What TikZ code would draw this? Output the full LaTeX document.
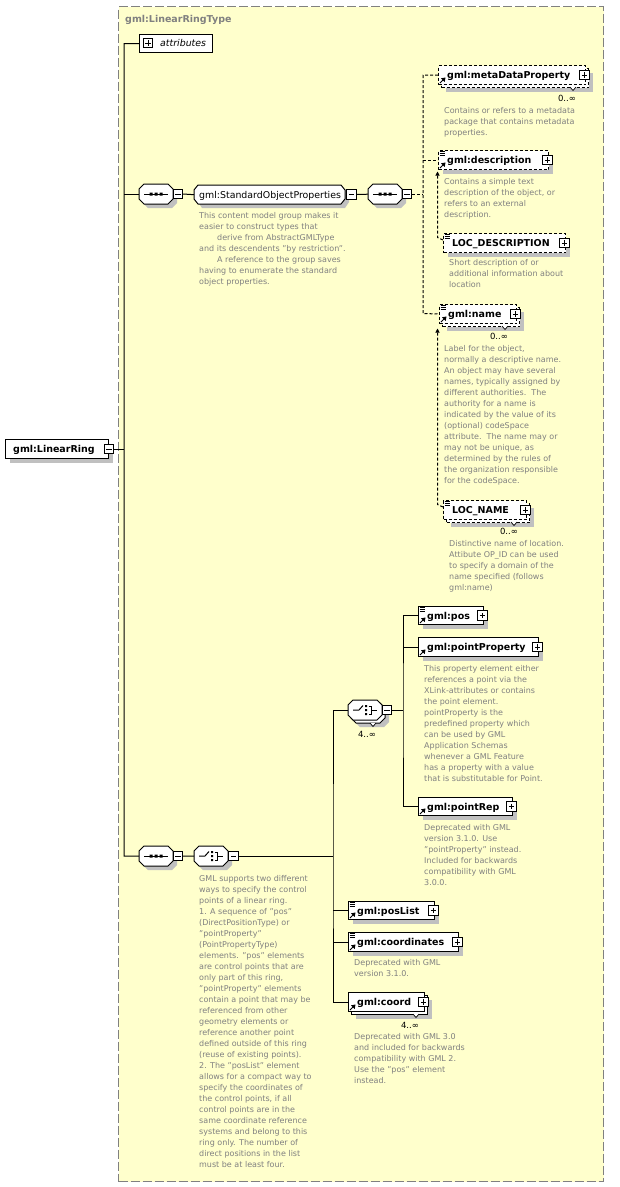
\documentclass[tikz,border=0pt]{standalone}
\usepackage{fontspec}
\setmainfont{DejaVu Sans}
\usetikzlibrary{shadows,calc,arrows.meta}
\definecolor{bgy}{HTML}{FFFFCC}
\definecolor{dgray}{HTML}{808080}
\definecolor{shd}{HTML}{C0C0C0}
\newcommand\nmfont{\fontsize{9.5pt}{11pt}\selectfont\bfseries}
\newcommand\dsfont{\fontsize{8pt}{11pt}\selectfont}
\newcommand\cdfont{\fontsize{8.5pt}{10pt}\selectfont}
\tikzset{
 el/.style={draw, fill=white, line width=1pt, anchor=north west, inner sep=0pt},
 shad/.style={general shadow={fill=shd, shadow xshift=4pt, shadow yshift=-4pt}},
 dsh/.style={dash pattern=on 3pt off 2pt},
 nm/.style={anchor=base west, inner sep=0pt, font=\nmfont},
 ds/.style={anchor=north west, inner sep=0pt, align=left, font=\dsfont, text=dgray},
 card/.style={inner sep=0pt, font=\cdfont},
 pm/.style={draw, fill=white, line width=0.8pt, minimum size=9.5pt, inner sep=0pt},
 plusbox/.style={pm, path picture={\draw[line width=0.8pt] ([xshift=2pt]path picture bounding box.west) -- ([xshift=-2pt]path picture bounding box.east) ([yshift=-2pt]path picture bounding box.north) -- ([yshift=2pt]path picture bounding box.south);}},
 minusbox/.style={pm, path picture={\draw[line width=0.8pt] ([xshift=2pt]path picture bounding box.west) -- ([xshift=-2pt]path picture bounding box.east);}},
 hook/.style={anchor=north west, inner sep=0pt, minimum width=34pt, minimum height=20pt},
 wire/.style={line width=1pt},
}
% element: name, x, y, w, h, label, style
\newcommand\elem[7]{%
  \node[el, minimum width=#4pt, minimum height=#5pt, #7] (#1) at (#2,#3) {};
  \node[nm] (#1-t) at ($(#1.west)+(9,3.5)$) {#6};
  \node[plusbox] (#1-p) at ($(#1.east)+(-1.5,0)$) {};
}
% back box of a repeated element: name, x, y, w, h, style
\newcommand\backbox[6]{%
  \node[el, shad, minimum width=#4pt, minimum height=#5pt, #6] (#1) at (#2+3,#3+3) {};
}
\newcommand\notch[2]{\draw[line width=0.7pt, fill=white] (#1-3,#2) -- (#1,#2+3.5) -- (#1+3,#2);}
\newcommand\txticon[1]{\draw[line width=0.7pt] ($(#1.north west)+(1.5,1)$) -- ++(5,0) ($(#1.north west)+(1.5,3)$) -- ++(5,0) ($(#1.north west)+(1.5,5)$) -- ++(5,0);}
\newcommand\reficon[1]{\draw[line width=1pt] ($(#1.south west)+(2,-2)$) -- ++(3,-3); \fill ($(#1.south west)+(7.5,-7.5)$) -- ++(-4.5,0.8) -- ++(3.7,3.7) -- cycle;}
\newcommand\octo[3]{\path[#3] (#1+5,#2)--(#1+29,#2)--(#1+34,#2+5)--(#1+34,#2+15)--(#1+29,#2+20)--(#1+5,#2+20)--(#1,#2+15)--(#1,#2+5)--cycle;}
\newcommand\seqicon[2]{\draw[line width=1pt] (#1+5,#2+10)--(#1+29,#2+10); \fill (#1+10.5,#2+8.5) rectangle ++(3,3) (#1+15.5,#2+8.5) rectangle ++(3,3) (#1+20.5,#2+8.5) rectangle ++(3,3);}
\newcommand\choicon[2]{\draw[line width=1pt] (#1+5,#2+10)--(#1+11,#2+10)--(#1+15,#2+5.5); \fill (#1+17,#2+5) rectangle ++(2.2,2.2) (#1+17,#2+9) rectangle ++(2.2,2.2) (#1+17,#2+13) rectangle ++(2.2,2.2); \draw[line width=1pt] (#1+20.5,#2+6)--(#1+23,#2+6)--(#1+23,#2+14)--(#1+20.5,#2+14) (#1+23,#2+10)--(#1+29,#2+10);}
\begin{document}
\begin{tikzpicture}[x=1pt,y=-1pt]
\useasboundingbox (0,0) rectangle (619,1187);
\fill[white] (0,0) rectangle (619,1187);
\node[draw=dgray, fill=bgy, line width=1pt, dash pattern=on 9pt off 3pt, anchor=north west, inner sep=0pt, minimum width=485pt, minimum height=1175pt] (type) at (118,6) {};
\node[anchor=base west, inner sep=0pt, font=\nmfont, text=dgray] (typet) at (125,22.5) {gml:LinearRingType};

\coordinate (spb) at (124,856);
\coordinate (j2) at (423,313.5);
\coordinate (j3) at (333,856);
\coordinate (j4) at (403,710);

% root element
\node[el, shad, minimum width=103pt, minimum height=19pt] (ring) at (5,439) {};
\node[nm] (ring-t) at ($(ring.west)+(8,3.5)$) {gml:LinearRing};
\node[minusbox] (ring-m) at (ring.east) {};

% attributes
\node[el, minimum width=73pt, minimum height=18pt] (attr) at (139,34) {};
\node[plusbox] (attr-p) at (148,43) {};
\node[anchor=base west, inner sep=0pt, font=\fontsize{9.4pt}{11pt}\selectfont\itshape] (attr-t) at (160,46.5) {attributes};

% sequence 1
\octo{143}{188}{fill=shd}
\octo{139}{184}{draw,fill=white,line width=1pt}
\seqicon{139}{184}
\node[hook] (seqa) at (139,184) {};
\node[minusbox] (seqa-m) at (178,194) {};

% group
\path[fill=shd] (202,189)--(345,189)--(349,194)--(349,202)--(345,208)--(202,208)--(198,202)--(198,194)--cycle;
\draw[line width=1pt, fill=white] (198,185)--(341,185)--(345,190)--(345,199)--(341,204)--(198,204)--(194,199)--(194,190)--cycle;
\node[anchor=north west, inner sep=0pt, minimum width=151pt, minimum height=19pt] (grp) at (194,185) {};
\node[anchor=base west, inner sep=0pt, font=\fontsize{9.4pt}{11pt}\selectfont] (grp-t) at (199,198) {gml:StandardObjectProperties};
\node[minusbox] (grp-m) at (351.5,194.5) {};
\node[ds] (grp-d) at (199,212.4) {This content model group makes it\\easier to construct types that\\\hspace*{18pt}derive from AbstractGMLType\\and its descendents "by restriction".\\\hspace*{18pt}A reference to the group saves\\having to enumerate the standard\\object properties.};

% sequence 2
\octo{372}{188}{fill=shd}
\octo{368}{184}{draw,fill=white,line width=1pt}
\seqicon{368}{184}
\node[hook] (seqb) at (368,184) {};
\node[minusbox] (seqb-m) at (407,194) {};

% metaDataProperty
\backbox{md-b}{438}{65}{147}{19}{dsh}
\notch{573}{87}
\elem{md}{438}{65}{147}{19}{gml:metaDataProperty}{dsh}
\reficon{md}
\node[card] (md-c) at (567,98.5) {0..∞};
\node[ds] (md-d) at (444,107.4) {Contains or refers to a metadata\\package that contains metadata\\properties.};

% description
\elem{desc}{438}{150}{110}{19}{gml:description}{dsh, shad}
\txticon{desc}
\reficon{desc}
\node[ds] (desc-d) at (444,178.4) {Contains a simple text\\description of the object, or\\refers to an external\\description.};

% LOC_DESCRIPTION
\elem{locdesc}{443}{233}{122}{19}{LOC\_DESCRIPTION}{dsh, shad}
\txticon{locdesc}
\node[ds] (locdesc-d) at (449,259.4) {Short description of or\\additional information about\\location};

% name
\backbox{name-b}{439}{304}{77}{19}{dsh}
\notch{505}{326}
\elem{name}{439}{304}{77}{19}{gml:name}{dsh}
\txticon{name}
\reficon{name}
\node[card] (name-c) at (499,336.5) {0..∞};
\node[ds] (name-d) at (444,345.4) {Label for the object,\\normally a descriptive name.\\An object may have several\\names, typically assigned by\\different authorities.\ \ The\\authority for a name is\\indicated by the value of its\\(optional) codeSpace\\attribute.\ \ The name may or\\may not be unique, as\\determined by the rules of\\the organization responsible\\for the codeSpace.};

% LOC_NAME
\backbox{locname-b}{443}{500}{83}{19}{dsh}
\notch{514}{522}
\elem{locname}{443}{500}{83}{19}{LOC\_NAME}{dsh}
\txticon{locname}
\node[card] (locname-c) at (509,531.5) {0..∞};
\node[ds] (locname-d) at (449,540.4) {Distinctive name of location.\\Attibute OP\_ID can be used\\to specify a domain of the\\name specified (follows\\gml:name)};

% sequence 3
\octo{143}{850}{fill=shd}
\octo{139}{846}{draw,fill=white,line width=1pt}
\seqicon{139}{846}
\node[hook] (seqc) at (139,846) {};
\node[minusbox] (seqc-m) at (178,856) {};

% choice 1
\octo{198}{850}{fill=shd}
\octo{194}{846}{draw,fill=white,line width=1pt}
\choicon{194}{846}
\node[hook] (cha) at (194,846) {};
\node[minusbox] (cha-m) at (233.5,856) {};
\node[ds] (cha-d) at (199,875.4) {GML supports two different\\ways to specify the control\\points of a linear ring.\\1. A sequence of "pos"\\(DirectPositionType) or\\"pointProperty"\\(PointPropertyType)\\elements. "pos" elements\\are control points that are\\only part of this ring,\\"pointProperty" elements\\contain a point that may be\\referenced from other\\geometry elements or\\reference another point\\defined outside of this ring\\(reuse of existing points).\\2. The "posList" element\\allows for a compact way to\\specify the coordinates of\\the control points, if all\\control points are in the\\same coordinate reference\\systems and belong to this\\ring only. The number of\\direct positions in the list\\must be at least four.};

% choice 2 (repeated)
\octo{355}{707}{fill=shd}
\octo{351}{703}{draw,fill=white,line width=1pt}
\notch{373}{723}
\octo{348}{700}{draw,fill=white,line width=1pt}
\choicon{348}{700}
\node[hook] (chb) at (348,700) {};
\node[minusbox] (chb-m) at (387,710) {};
\node[card] (chb-c) at (367,734.5) {4..∞};

% pos
\elem{pos}{418}{606}{65}{18}{gml:pos}{shad}
\txticon{pos}
\reficon{pos}

% pointProperty
\elem{pp}{418}{637}{120}{19}{gml:pointProperty}{shad}
\reficon{pp}
\node[ds] (pp-d) at (424,665.4) {This property element either\\references a point via the\\XLink-attributes or contains\\the point element.\\pointProperty is the\\predefined property which\\can be used by GML\\Application Schemas\\whenever a GML Feature\\has a property with a value\\that is substitutable for Point.};

% pointRep
\elem{prep}{418}{797}{94}{18}{gml:pointRep}{shad}
\reficon{prep}
\node[ds] (prep-d) at (424,824.4) {Deprecated with GML\\version 3.1.0. Use\\"pointProperty" instead.\\Included for backwards\\compatibility with GML\\3.0.0.};

% posList
\elem{plist}{348}{901}{86}{18}{gml:posList}{shad}
\txticon{plist}
\reficon{plist}

% coordinates
\elem{coords}{348}{932}{110}{19}{gml:coordinates}{shad}
\txticon{coords}
\reficon{coords}
\node[ds] (coords-d) at (354,959.4) {Deprecated with GML\\version 3.1.0.};

% coord (repeated)
\backbox{coord-b}{348}{992}{76}{19}{}
\notch{416}{1014}
\elem{coord}{348}{992}{76}{19}{gml:coord}{}
\reficon{coord}
\node[card] (coord-c) at (410,1025.5) {4..∞};
\node[ds] (coord-d) at (354,1033.4) {Deprecated with GML 3.0\\and included for backwards\\compatibility with GML 2.\\Use the "pos" element\\instead.};

% connectors
\draw[wire] (attr.west) -| (spb) -- (seqc.west);
\draw[wire] (ring-m.east) -- (ring-m.east -| spb);
\draw[wire] (seqa.west -| spb) -- (seqa.west);
\draw[wire] (seqa-m.east) -- (grp.west);
\draw[wire] (grp-m.east) -- (seqb.west);
\draw[wire,dsh] (seqb-m.east) -- (seqb-m.east -| j2);
\draw[wire,dsh] (md.west) -| (j2) -- (name.west);
\draw[wire,dsh] (desc.west -| j2) -- (desc.west);
\draw[wire,dsh,-{Triangle[length=4pt,width=4pt]}] ([yshift=3pt]locdesc.west) -- ++(-5.5,-2.5) coordinate (sd1) -- ([yshift=-1.5pt]sd1 |- desc.south);
\draw[wire,dsh,-{Triangle[length=4pt,width=4pt]}] ([yshift=3pt]locname.west) -- ++(-5.5,-2.5) coordinate (sn1) -- ([yshift=-1.5pt]sn1 |- name-b.south);
\draw[wire] (seqc-m.east) -- (cha.west);
\draw[wire] (cha-m.east) -- (j3);
\draw[wire] (chb.west) -| (j3) |- (coord.west);
\draw[wire] (plist.west -| j3) -- (plist.west);
\draw[wire] (coords.west -| j3) -- (coords.west);
\draw[wire] (chb-m.east) -- (j4);
\draw[wire] (pos.west) -| (j4) |- (prep.west);
\draw[wire] (pp.west -| j4) -- (pp.west);
\end{tikzpicture}
\end{document}
